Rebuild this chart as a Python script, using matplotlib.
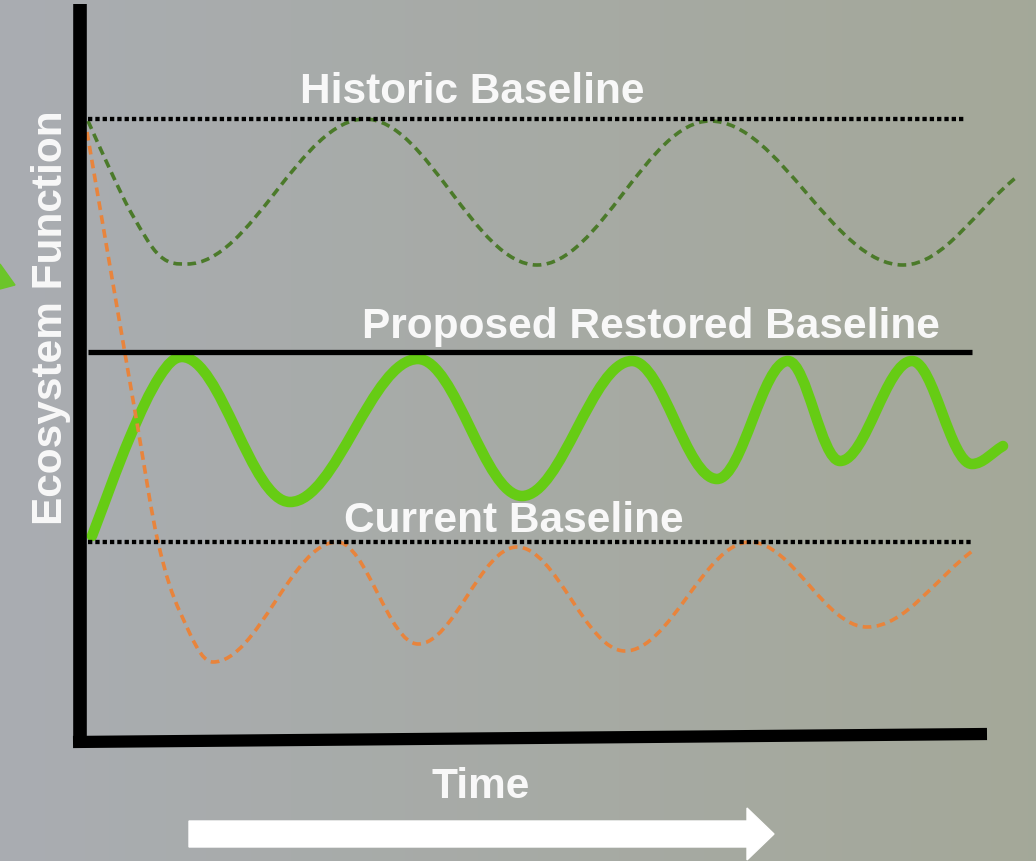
import numpy as np
import matplotlib
matplotlib.use("Agg")
import matplotlib.pyplot as plt
from matplotlib.path import Path
from matplotlib.patches import PathPatch, Polygon

# -------------------------
# Values
# (x = time, y = ecosystem function, both in chart units)
# -------------------------

historic_level = 623
proposed_level = 390
current_level = 200
baseline_start = 8
historic_end = 885
proposed_end = 892
current_end = 892

# historic natural variability (dashed dark green)
historic_x = [8, 33, 53, 80, 107, 285, 457, 630, 823, 938]
historic_y = [621, 566, 526, 486, 478, 623, 477, 621, 477, 566]

# restored trajectory (thick green)
restored_x = [12, 50, 80, 102, 210, 338, 442, 552, 637, 708, 760, 832, 892, 923]
restored_y = [206, 305, 366, 385, 240, 383, 246, 381, 263, 381, 281, 381, 278, 296]

# degraded trajectory (dashed orange)
degraded_x = [7, 58, 78, 100, 133, 257, 338, 437, 545, 670, 787, 895]
degraded_y = [610, 313, 200, 130, 80, 200, 98, 195, 91, 200, 115, 193]

labels = ["Historic Baseline", "Proposed Restored Baseline", "Current Baseline"]


def smooth_path(xs, ys, k=0.36):
    # cubic bezier through the read points, flat tangents at peaks/troughs
    n = len(xs)
    slopes = []
    for i in range(n):
        if i == 0:
            m = (ys[1] - ys[0]) / (xs[1] - xs[0])
        elif i == n - 1:
            m = (ys[-1] - ys[-2]) / (xs[-1] - xs[-2])
        elif (ys[i] - ys[i - 1]) * (ys[i + 1] - ys[i]) <= 0:
            m = 0.0
        else:
            m = (ys[i + 1] - ys[i - 1]) / (xs[i + 1] - xs[i - 1])
        slopes.append(m)
    verts = [(xs[0], ys[0])]
    codes = [Path.MOVETO]
    for i in range(n - 1):
        dx = xs[i + 1] - xs[i]
        verts.append((xs[i] + k * dx, ys[i] + k * dx * slopes[i]))
        verts.append((xs[i + 1] - k * dx, ys[i + 1] - k * dx * slopes[i + 1]))
        verts.append((xs[i + 1], ys[i + 1]))
        codes += [Path.CURVE4] * 3
    return Path(verts, codes)


fig = plt.figure(figsize=(10.36, 8.62), dpi=100)
ax = fig.add_axes([0, 0, 1, 1])
ax.set_xlim(-80, 956)
ax.set_ylim(-119, 743)
ax.axis("off")

# background gradient, bluish grey -> greenish grey
left_col = np.array([0.665, 0.678, 0.698])
right_col = np.array([0.643, 0.659, 0.600])
t = np.linspace(0, 1, 256)[None, :, None]
grad = left_col * (1 - t) + right_col * t
ax.imshow(grad, extent=(-80, 956, -119, 743), aspect="auto", zorder=0)

# curves
ax.add_patch(PathPatch(smooth_path(historic_x, historic_y), fill=False,
                       edgecolor="#4b7a2a", linewidth=2.6,
                       linestyle=(0, (2.4, 1.5)), capstyle="butt", zorder=3))
ax.add_patch(PathPatch(smooth_path(restored_x, restored_y), fill=False,
                       edgecolor="#66cc14", linewidth=7.6,
                       capstyle="round", joinstyle="round", zorder=3))
ax.add_patch(PathPatch(smooth_path(degraded_x, degraded_y), fill=False,
                       edgecolor="#e8843c", linewidth=2.6,
                       linestyle=(0, (2.4, 1.5)), capstyle="butt", zorder=4))

# baselines
dotted = dict(color="black", linewidth=3.1, linestyle=(0, (1.0, 0.7)),
              dash_capstyle="butt", zorder=5)
ax.plot([baseline_start, historic_end], [historic_level] * 2, **dotted)
ax.plot([baseline_start, current_end], [current_level] * 2, **dotted)
ax.plot([baseline_start, proposed_end], [proposed_level] * 2,
        color="black", linewidth=3.8, solid_capstyle="butt", zorder=5)

# axes drawn as thick strokes
ax.plot([0, 0], [-2, 738], color="black", linewidth=9.8,
        solid_capstyle="butt", zorder=6)
ax.plot([-7, 907], [0, 8], color="black", linewidth=8.8,
        solid_capstyle="butt", zorder=6)

# text
txt = dict(color="#f8f8f8", fontsize=30.5, fontweight="bold",
           family="Liberation Sans", zorder=7)
ax.text(392, 640, labels[0], ha="center", va="baseline", **txt)
ax.text(571, 405, labels[1], ha="center", va="baseline", **txt)
ax.text(434, 211, labels[2], ha="center", va="baseline", **txt)
ax.text(401, -55, "Time", ha="center", va="baseline", **txt)
ax.text(-18, 425, "Ecosystem Function", ha="center", va="baseline",
        rotation=90, rotation_mode="anchor", **txt)

# time arrow
ax.arrow(109, -92, 585, 0, width=26, head_width=52, head_length=27,
         length_includes_head=True, color="white", zorder=7)

# clipped green arrow tip at the left edge
ax.add_patch(Polygon([(-80, 478), (-65, 457), (-80, 453)], closed=True,
                     color="#6cc52a", zorder=7))

fig.savefig("out.png", dpi=100)
